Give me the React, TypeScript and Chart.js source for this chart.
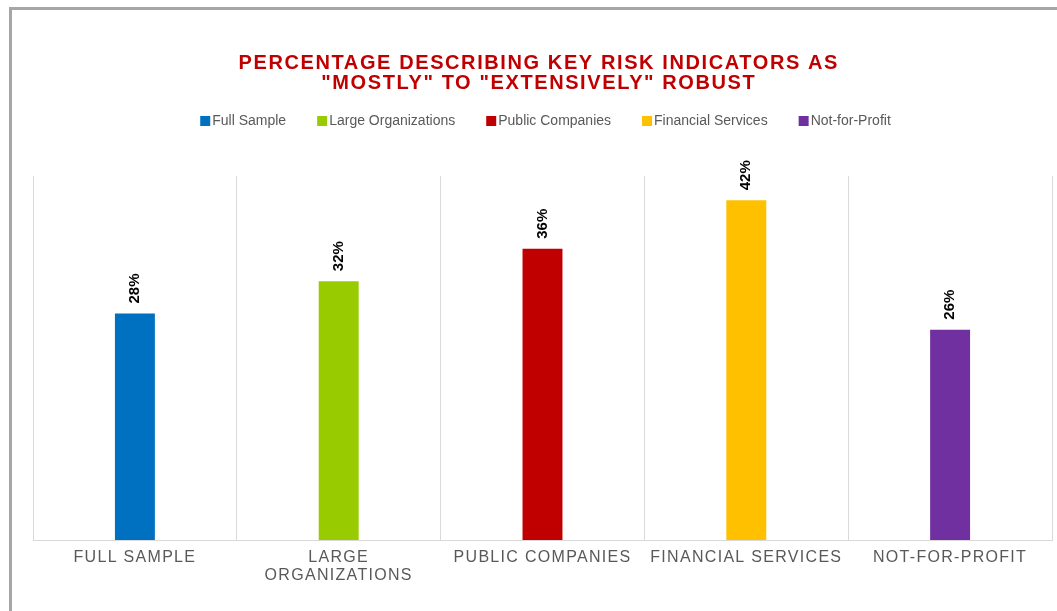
import React, { useEffect, useRef } from "react";
import { Chart, registerables } from "chart.js";

Chart.register(...registerables);

const TITLE_LINES = [
  "PERCENTAGE DESCRIBING KEY RISK INDICATORS AS",
  '"MOSTLY" TO "EXTENSIVELY" ROBUST',
];
const CATEGORIES = [
  "Full Sample",
  "Large Organizations",
  "Public Companies",
  "Financial Services",
  "Not-for-Profit",
];
const TICK_LABELS = [
  ["FULL SAMPLE"],
  ["LARGE", "ORGANIZATIONS"],
  ["PUBLIC COMPANIES"],
  ["FINANCIAL SERVICES"],
  ["NOT-FOR-PROFIT"],
];
const VALUES = [28, 32, 36, 42, 26];
const COLORS = ["#0070C0", "#99CC00", "#C00000", "#FFC000", "#7030A0"];
const Y_MAX = 45;

const W = 1045;
const H = 601;
const FONT = '"Liberation Sans", Arial, sans-serif';

const overlayPlugin = {
  id: "overlay",
  beforeDraw(chart: any) {
    (chart.ctx as any).letterSpacing = "1.3px";
  },
  afterDatasetsDraw(chart: any) {
    const ctx = chart.ctx;
    ctx.save();
    (ctx as any).letterSpacing = "0px";
    ctx.font = `bold 15px ${FONT}`;
    ctx.fillStyle = "#000000";
    ctx.textAlign = "left";
    ctx.textBaseline = "middle";
    const meta = chart.getDatasetMeta(0);
    meta.data.forEach((bar: any, i: number) => {
      ctx.save();
      ctx.translate(bar.x, bar.y - 10);
      ctx.rotate(-Math.PI / 2);
      ctx.fillText(`${VALUES[i]}%`, 0, 0);
      ctx.restore();
    });
    ctx.restore();
  },
  afterDraw(chart: any) {
    const ctx = chart.ctx;
    ctx.save();
    // Title
    (ctx as any).letterSpacing = "1.6px";
    ctx.font = `bold 20px ${FONT}`;
    ctx.fillStyle = "#C00000";
    ctx.textAlign = "center";
    ctx.textBaseline = "alphabetic";
    TITLE_LINES.forEach((line, i) => {
      ctx.fillText(line, 526.8, 59 + i * 20);
    });
    // Legend
    (ctx as any).letterSpacing = "0px";
    ctx.font = `14px ${FONT}`;
    ctx.textAlign = "left";
    const box = 10;
    const gap = 2;
    const spacing = 31;
    const widths = CATEGORIES.map((c) => ctx.measureText(c).width);
    const total =
      widths.reduce((a, w) => a + box + gap + w, 0) + spacing * (CATEGORIES.length - 1);
    let x = 533.5 - total / 2;
    CATEGORIES.forEach((c, i) => {
      ctx.fillStyle = COLORS[i];
      ctx.fillRect(x, 106, box, box);
      ctx.fillStyle = "#595959";
      ctx.fillText(c, x + box + gap, 115);
      x += box + gap + widths[i] + spacing;
    });
    ctx.restore();
  },
};

export default function App() {
  const ref = useRef<HTMLCanvasElement | null>(null);

  useEffect(() => {
    if (!ref.current) return;
    const chart = new Chart(ref.current, {
      type: "bar",
      data: {
        labels: TICK_LABELS as any,
        datasets: [
          {
            label: "Percentage",
            data: VALUES,
            backgroundColor: COLORS,
            borderWidth: 0,
            categoryPercentage: 1,
            barPercentage: 0.196,
          },
        ],
      },
      options: {
        animation: false,
        responsive: false,
        devicePixelRatio: 1,
        layout: { padding: { top: 166, left: 21, right: 5, bottom: 0 } },
        plugins: {
          legend: { display: false },
          title: { display: false },
          tooltip: { enabled: false },
        },
        scales: {
          x: {
            offset: true,
            grid: {
              display: true,
              offset: true,
              color: "#D9D9D9",
              lineWidth: 1,
              drawTicks: false,
            },
            border: { display: true, color: "#D9D9D9", width: 1 },
            ticks: {
              color: "#595959",
              font: { size: 16, family: FONT, lineHeight: 1.125 },
              padding: 9,
              maxRotation: 0,
              minRotation: 0,
              autoSkip: false,
            },
            afterFit(scale: any) {
              scale.height = 71;
            },
          },
          y: {
            display: false,
            min: 0,
            max: Y_MAX,
          },
        },
      },
      plugins: [overlayPlugin],
    });
    return () => chart.destroy();
  }, []);

  return (
    <div
      style={{
        position: "absolute",
        left: 9,
        top: 7,
        width: 1048,
        height: 604,
        boxSizing: "border-box",
        borderLeft: "3px solid #A6A6A6",
        borderTop: "3px solid #A6A6A6",
        background: "#FFFFFF",
        overflow: "hidden",
      }}
    >
      <canvas ref={ref} width={W} height={H} style={{ display: "block", width: W, height: H }} />
    </div>
  );
}
